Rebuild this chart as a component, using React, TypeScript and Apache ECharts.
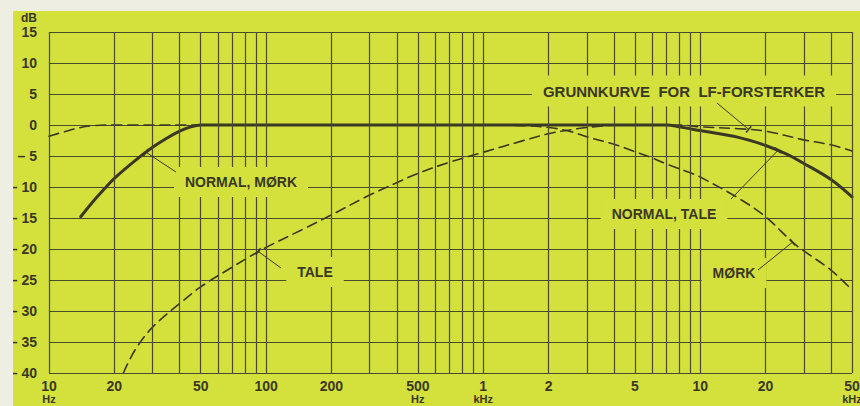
import React, { useEffect, useRef } from "react";
import * as echarts from "echarts";

// ---- data ----
const normalFreq = [14, 16, 18, 20, 25, 30, 35, 40, 45, 50, 7000, 8000, 10000, 15000, 20000, 25000, 30000, 40000, 50000];
const normalDb = [-14.8, -12.3, -10.3, -8.6, -5.7, -3.6, -2.1, -1.0, -0.3, 0, 0, -0.3, -0.9, -2.0, -3.3, -4.7, -6.2, -8.8, -11.6];

const baseFreq = [10, 12, 14, 16, 20, 8000, 10000, 15000, 20000, 30000, 40000, 50000];
const baseDb = [-1.8, -1.0, -0.4, -0.1, 0, 0, -0.3, -0.6, -1.0, -2.4, -3.2, -4.2];

const taleFreq = [22, 25, 30, 40, 50, 70, 97, 150, 200, 300, 400, 500, 700, 1000, 1500, 2000, 2500, 3000, 4000];
const taleDb = [-40, -36.2, -32.6, -28.8, -26.1, -22.9, -20, -16.7, -14.5, -11.3, -9.3, -7.8, -6.0, -4.4, -2.6, -1.4, -0.8, -0.4, 0];

const morkFreq = [1000, 1500, 2000, 2500, 3000, 4000, 5000, 6000, 7000, 9000, 10000, 15000, 20000, 26600, 30000, 40000, 50000];
const morkDb = [0, -0.1, -0.4, -1.0, -1.9, -3.1, -4.3, -5.3, -6.3, -7.7, -8.4, -11.8, -14.8, -18.9, -20.3, -23.4, -26.6];

const gridFreqs = [
  10, 20, 30, 40, 50, 60, 70, 80, 90,
  100, 200, 300, 400, 500, 600, 700, 800, 900,
  1000, 2000, 3000, 4000, 5000, 6000, 7000, 8000, 9000,
  10000, 20000, 30000, 40000, 50000,
];
const xTickFreqs = [10, 20, 50, 100, 200, 500, 1000, 2000, 5000, 10000, 20000, 50000];
const xTickLabels = ["10", "20", "50", "100", "200", "500", "1", "2", "5", "10", "20", "50"];
const xTickUnits = ["Hz", "", "", "", "", "Hz", "kHz", "", "", "", "", "kHz"];

const annotationTexts = ["NORMAL, MØRK", "TALE", "GRUNNKURVE  FOR  LF-FORSTERKER", "NORMAL, TALE", "MØRK"];
// anchor points on the curves [Hz, dB]
const annotationAnchors = [
  [28, -4.4],
  [92, -20.4],
  [16700, -0.7],
  [22800, -4.1],
  [26600, -18.9],
];

// ---- layout / style ----
const W = 860;
const H = 406;
const YELLOW = "#d4e03c";
const PAPER = "#eeeee2";
const INK = "#3a3824";
const GRIDC = "#4c4a2c";
const FONT = '"Liberation Sans", Arial, sans-serif';
// label centres and leader start points (pixels)
const annotationLayout = [
  { cx: 241, cy: 182, fs: 14, lx: 176, ly: 172 },
  { cx: 315, cy: 272, fs: 14, lx: 281, ly: 268 },
  { cx: 684, cy: 91, fs: 15, lx: 717, ly: 103 },
  { cx: 664, cy: 214, fs: 14, lx: 731, ly: 199 },
  { cx: 734, cy: 273, fs: 14, lx: 758, ly: 270 },
];

const zip = (a: number[], b: number[]) => a.map((v, i) => [v, b[i]]);

export default function App() {
  const ref = useRef<HTMLDivElement>(null);

  useEffect(() => {
    document.body.style.margin = "0";
    const chart = echarts.init(ref.current!, null, { renderer: "svg" });

    const curve = (freq: number[], db: number[], width: number, dashed: boolean, z: number) => ({
      type: "line",
      data: zip(freq, db),
      symbol: "none",
      smooth: 0.35,
      silent: true,
      lineStyle: { color: INK, width, type: dashed ? [10, 6] : "solid", cap: "round", join: "round" },
      z,
    });

    chart.setOption({
      animation: false,
      backgroundColor: YELLOW,
      grid: { left: 49, right: 8, top: 32, bottom: 33 },
      xAxis: {
        type: "log",
        logBase: 10,
        min: 10,
        max: 50000,
        axisLine: { show: false },
        axisTick: { show: false },
        axisLabel: { show: false },
        splitLine: { show: false },
      },
      yAxis: {
        type: "value",
        min: -40,
        max: 15,
        interval: 5,
        axisLine: { show: false },
        axisTick: { show: false },
        splitLine: { show: true, lineStyle: { color: GRIDC, width: 1.2 } },
        axisLabel: {
          color: INK,
          fontWeight: "bold",
          fontSize: 14,
          fontFamily: FONT,
          margin: 12,
          formatter: (v: number) => (v < 0 ? "– " + Math.abs(v) : String(v)),
        },
      },
      series: [
        {
          type: "line",
          data: [[10, 0]],
          symbol: "none",
          lineStyle: { width: 0 },
          z: 1,
          silent: true,
          markLine: {
            silent: true,
            symbol: ["none", "none"],
            label: { show: false },
            lineStyle: { color: GRIDC, width: 1.2, type: "solid" },
            emphasis: { disabled: true },
            data: gridFreqs.map((f) => ({ xAxis: f })),
          },
        },
        curve(baseFreq, baseDb, 1.6, true, 3),
        curve(taleFreq, taleDb, 1.6, true, 3),
        curve(morkFreq, morkDb, 1.6, true, 3),
        curve(normalFreq, normalDb, 3, false, 4),
      ],
    });

    const px = (f: number, db: number) =>
      chart.convertToPixel({ gridIndex: 0 }, [f, db]) as number[];

    const graphics: any[] = [
      { type: "rect", z: 50, shape: { x: 0, y: 0, width: W, height: 11 }, style: { fill: PAPER } },
      { type: "rect", z: 50, shape: { x: 0, y: 0, width: 13, height: H }, style: { fill: PAPER } },
      {
        type: "text",
        z: 100,
        style: { text: "dB", x: 29, y: 18, align: "center", verticalAlign: "middle", font: `bold 12px ${FONT}`, fill: INK },
      },
    ];

    xTickFreqs.forEach((f, i) => {
      const [x, y] = px(f, -40);
      graphics.push({
        type: "text",
        z: 100,
        style: { text: xTickLabels[i], x, y: y + 13, align: "center", verticalAlign: "middle", font: `bold 14px ${FONT}`, fill: INK },
      });
      if (xTickUnits[i]) {
        graphics.push({
          type: "text",
          z: 100,
          style: { text: xTickUnits[i], x, y: y + 26, align: "center", verticalAlign: "middle", font: `bold 11px ${FONT}`, fill: INK },
        });
      }
    });

    annotationTexts.forEach((t, i) => {
      const L = annotationLayout[i];
      const [ax, ay] = px(annotationAnchors[i][0], annotationAnchors[i][1]);
      graphics.push({
        type: "text",
        z: 100,
        style: {
          text: t,
          x: L.cx,
          y: L.cy,
          align: "center",
          verticalAlign: "middle",
          font: `bold ${L.fs}px ${FONT}`,
          fill: INK,
          backgroundColor: YELLOW,
          padding: [9, 11, 7, 11],
        },
      });
      graphics.push({
        type: "line",
        z: 101,
        shape: { x1: L.lx, y1: L.ly, x2: ax, y2: ay },
        style: { stroke: INK, lineWidth: 1 },
      });
      // small tick across the leader at the curve
      const dx = ax - L.lx;
      const dy = ay - L.ly;
      const len = Math.hypot(dx, dy) || 1;
      const nx = -dy / len;
      const ny = dx / len;
      graphics.push({
        type: "line",
        z: 101,
        shape: { x1: ax - nx * 4, y1: ay - ny * 4, x2: ax + nx * 4, y2: ay + ny * 4 },
        style: { stroke: INK, lineWidth: 1.5 },
      });
    });

    chart.setOption({ graphic: graphics });

    return () => chart.dispose();
  }, []);

  return <div ref={ref} style={{ width: W, height: H }} />;
}
